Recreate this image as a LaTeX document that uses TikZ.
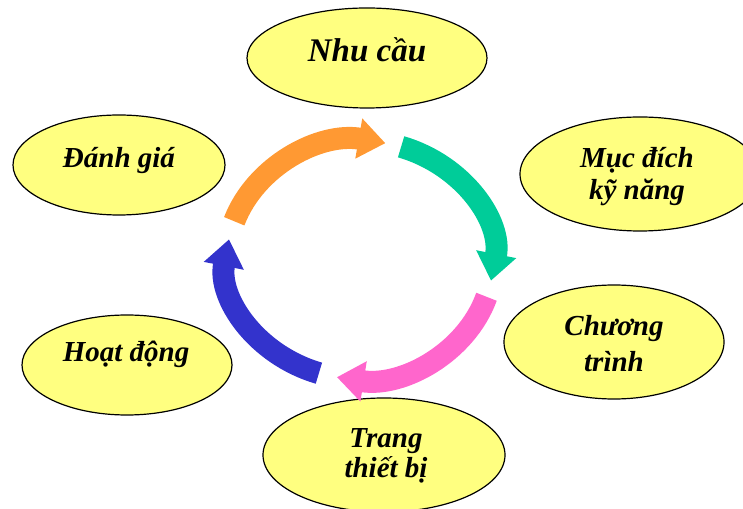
\documentclass[tikz,border=0pt]{standalone}
\usepackage{fontspec}
\setmainfont{Liberation Serif}
\usetikzlibrary{shapes.geometric}
\usetikzlibrary{arrows.meta}
\definecolor{bubbleyellow}{RGB}{255,255,128}
\definecolor{cycorange}{RGB}{255,153,51}
\definecolor{cycgreen}{RGB}{0,204,153}
\definecolor{cycpink}{RGB}{255,102,204}
\definecolor{cycblue}{RGB}{51,51,204}
\tikzstyle{bubble}=[ellipse,draw=black,fill=bubbleyellow,line width=1.2pt,inner sep=0pt]
\tikzstyle{bubbletext}=[font=\fontsize{29}{32}\selectfont\bfseries\itshape,align=center,inner sep=0pt]
\tikzstyle{bigtext}=[font=\fontsize{33}{36}\selectfont\bfseries\itshape,inner sep=0pt]
\tikzstyle{cyclearrow}=[line width=22pt,-{Triangle[width=39pt,length=27pt]}]

\begin{document}
\begin{tikzpicture}[x=1pt,y=1pt]
\useasboundingbox (0,0) rectangle (743,508);

% bubbles
    \foreach \pos/\name/\ew/\eh in {{(367,450)/need/240/100}, {(640,334)/goal/240/114}, {(614,166)/prog/220/114}, {(384,53)/equip/242/114}, {(127,143)/act/210/100}, {(119,343)/eval/212/100}}
        \node[bubble,minimum width=\ew pt,minimum height=\eh pt] (\name) at \pos {};

% labels
  \node[bigtext,anchor=base] (needtext) at (367,446) {Nhu cầu};
  \node[bubbletext] (goaltext) at (637,331) {Mục đích\\kỹ năng};
  \node[bubbletext,font=\fontsize{29}{36}\selectfont\bfseries\itshape] (progtext) at (614,164) {Chương\\trình};
  \node[bubbletext,font=\fontsize{29}{30}\selectfont\bfseries\itshape] (equiptext) at (386,52) {Trang\\thiết bị};
  \node[bubbletext,anchor=base] (acttext) at (126,146) {Hoạt động};
  \node[bubbletext,anchor=base] (evaltext) at (119,340) {Đánh giá};

% cycle
  \coordinate (hub) at (360,248);
    \foreach \col/\start in {cycorange/161, cycgreen/72, cycpink/-18, cycblue/-108}
        \draw[cyclearrow,color=\col] (hub) ++(\start:133 and 119) arc[start angle=\start, delta angle=-82, x radius=133, y radius=119];

\end{tikzpicture}
\end{document}
